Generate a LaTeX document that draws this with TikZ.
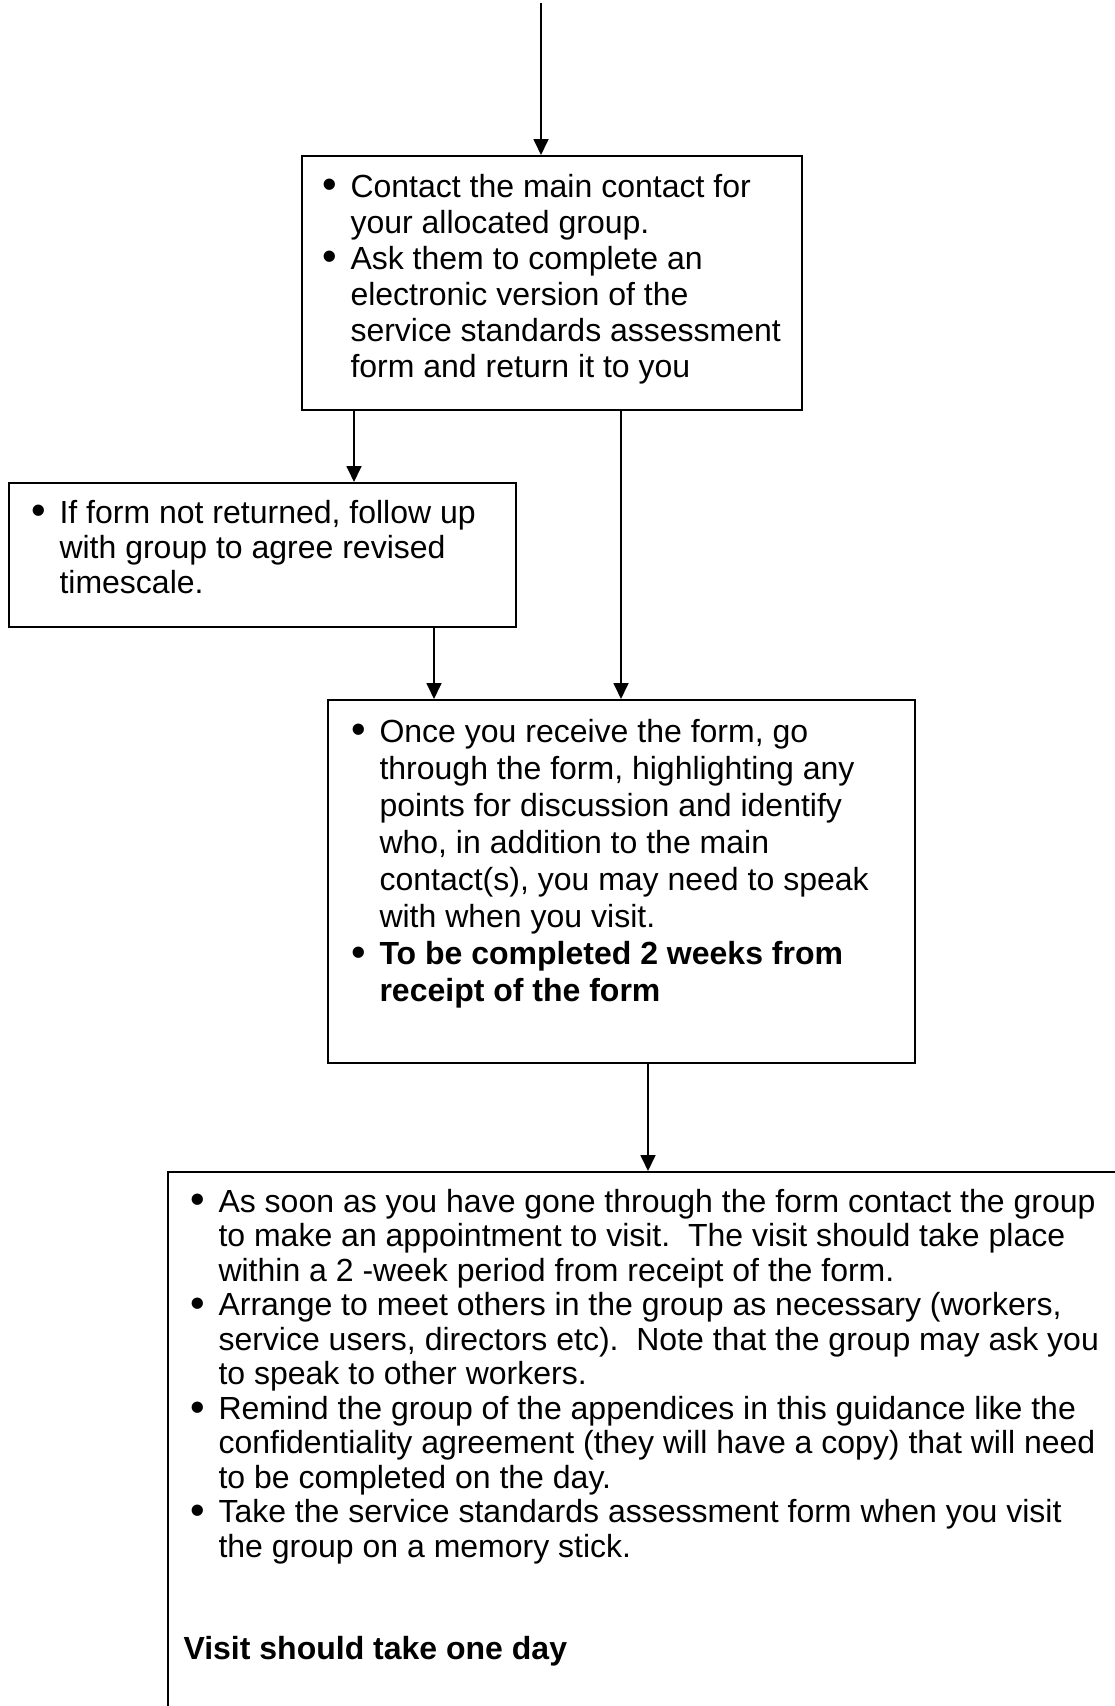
\documentclass[tikz,border=0pt]{standalone}
\usepackage{fontspec}
\setmainfont{Liberation Sans}
\usetikzlibrary{arrows.meta}

\newlength{\bulind}
\setlength{\bulind}{10.5pt}
% Schrift und Zeilenumbruch in den Kaesten
\protected\def\boxsetup{\spaceskip=\fontdimen2\font\relax
  \xspaceskip=\fontdimen2\font\relax
  \hyphenpenalty=10000\relax\exhyphenpenalty=10000\relax}
% bullet paragraph with hanging indent
\newcommand{\bul}[1]{\hangindent=\bulind\hangafter=1\noindent
  \makebox[\bulind][l]{\raisebox{-0.06em}{\scalebox{1.3}{\textbullet}}}#1\par}

\tikzset{
  stepbox/.style={draw, line width=0.75pt, rectangle, inner sep=0pt, anchor=north west},
  boxtext/.style={anchor=base west, inner sep=0pt, align=flush left,
    font=\fontsize{12pt}{13.3pt}\selectfont, execute at begin node=\boxsetup},
  flow/.style={-{Triangle[width=5.6pt,length=6pt]}, line width=0.75pt},
}

\begin{document}
\begin{tikzpicture}[x=0.375pt, y=-0.375pt]
  \useasboundingbox (0,0) rectangle (1115,1706);
  \clip (0,0) rectangle (1115,1706);

  % Kaesten
  \node[stepbox, minimum width=187.5pt, minimum height=95.25pt] (contact) at (301,155) {};
  \node[stepbox, minimum width=190.125pt, minimum height=54pt] (chase) at (8,482) {};
  \node[stepbox, minimum width=220.125pt, minimum height=136.125pt] (review) at (327,699) {};
  \node[stepbox, minimum width=375pt, minimum height=225pt] (visit) at (167,1171) {};

  % Texte
  \node[boxtext, text width=175.5pt, font=\fontsize{12pt}{13.5pt}\selectfont] (contacttext) at (322,197) {%
    \bul{Contact the main contact for your allocated group.}
    \bul{Ask them to complete an electronic version of the service standards assessment form and return it to you}};
  \node[boxtext, text width=175.875pt] (chasetext) at (31,523) {%
    \bul{If form not returned, follow up with group to agree revised timescale.}};
  \node[boxtext, text width=203.625pt, font=\fontsize{12pt}{13.9pt}\selectfont] (reviewtext) at (351,742) {%
    \bul{Once you receive the form, go through the form, highlighting any points for discussion and identify who, in addition to the main contact(s), you may need to speak with when you visit.}
    \bul{\textbf{To be completed 2 weeks from receipt of the form}}};
  \node[boxtext, text width=344.25pt, font=\fontsize{12pt}{12.95pt}\selectfont] (visittext) at (190,1212) {%
    \bul{As soon as you have gone through the form contact the group to make an appointment to visit.\ \ The visit should take place within a 2 -week period from receipt of the form.}
    \bul{Arrange to meet others in the group as necessary (workers, service users, directors etc).\ \ Note that the group may ask you to speak to other workers.}
    \bul{Remind the group of the appendices in this guidance like the confidentiality agreement (they will have a copy) that will need to be completed on the day.}
    \bul{Take the service standards assessment form when you visit the group on a memory stick.}};
  \node[boxtext, font=\fontsize{12pt}{13.3pt}\selectfont\bfseries] (visitnote) at (183,1659) {Visit should take one day};

  % Pfeile
  \coordinate (start) at (541,3);
  \coordinate (c1) at ([xshift=19.875pt]contact.south west);
  \coordinate (c2) at ([xshift=120pt]contact.south west);
  \coordinate (c3) at ([xshift=159.75pt]chase.south west);
  \coordinate (c4) at ([xshift=120.375pt]review.south west);
  \draw[flow] (start) -- (start |- contact.north);
  \draw[flow] (c1) -- (c1 |- chase.north);
  \draw[flow] (c2) -- (c2 |- review.north);
  \draw[flow] (c3) -- (c3 |- review.north);
  \draw[flow] (c4) -- (c4 |- visit.north);
\end{tikzpicture}
\end{document}
